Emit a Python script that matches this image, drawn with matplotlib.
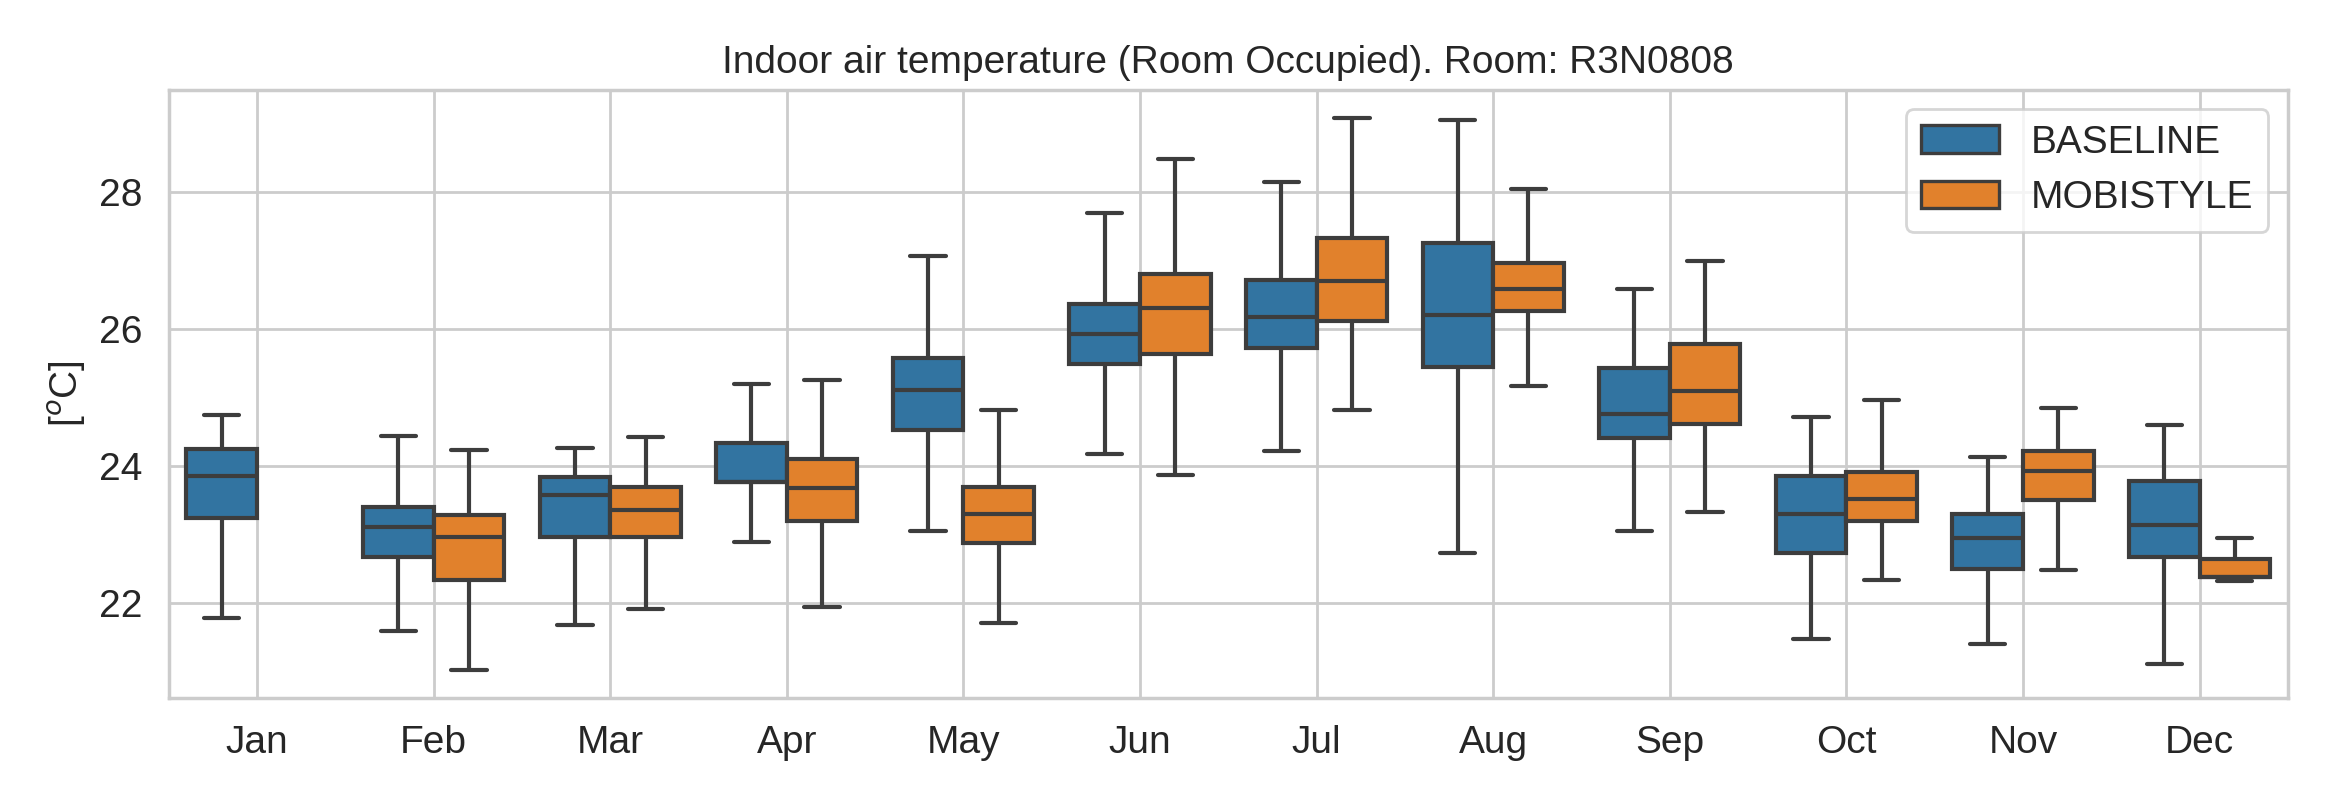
import matplotlib
matplotlib.use("Agg")
import matplotlib.pyplot as plt
import seaborn as sns
from matplotlib.patches import Patch

sns.set_theme(style="whitegrid")
plt.rcParams['font.family'] = ['Liberation Sans', 'DejaVu Sans']

months = ["Jan", "Feb", "Mar", "Apr", "May", "Jun", "Jul", "Aug", "Sep", "Oct", "Nov", "Dec"]
series = ["BASELINE", "MOBISTYLE"]

# BASELINE stats per month
base_low = [21.77, 21.58, 21.67, 22.89, 23.04, 24.17, 24.21, 22.72, 23.04, 21.47, 21.39, 21.10]
base_q1 = [23.23, 22.67, 22.96, 23.77, 24.52, 25.49, 25.72, 25.44, 24.40, 22.72, 22.49, 22.67]
base_med = [23.85, 23.11, 23.57, 23.77, 25.11, 25.93, 26.17, 26.21, 24.76, 23.29, 22.95, 23.13]
base_q3 = [24.24, 23.40, 23.83, 24.34, 25.57, 26.36, 26.71, 27.26, 25.43, 23.85, 23.29, 23.78]
base_high = [24.75, 24.43, 24.26, 25.20, 27.07, 27.69, 28.15, 29.06, 26.59, 24.72, 24.13, 24.59]

# MOBISTYLE stats per month (no data in Jan)
mobi_low = [None, 21.02, 21.91, 21.93, 21.70, 23.86, 24.81, 25.17, 23.32, 22.33, 22.47, 22.31]
mobi_q1 = [None, 22.33, 22.96, 23.19, 22.87, 25.63, 26.11, 26.26, 24.61, 23.19, 23.50, 22.38]
mobi_med = [None, 22.96, 23.36, 23.68, 23.29, 26.30, 26.70, 26.59, 25.09, 23.51, 23.92, 22.38]
mobi_q3 = [None, 23.28, 23.69, 24.10, 23.69, 26.80, 27.33, 26.97, 25.78, 23.91, 24.21, 22.64]
mobi_high = [None, 24.23, 24.42, 25.26, 24.82, 28.49, 29.08, 28.05, 26.99, 24.96, 24.84, 22.95]

colors = ["#3274a1", "#e1812c"]
line_c = "#3d3d3d"

fig = plt.figure(figsize=(11.7, 4), dpi=200)
ax = fig.add_axes([0.0721, 0.127, 0.9056, 0.761])

all_sets = [(base_low, base_q1, base_med, base_q3, base_high),
            (mobi_low, mobi_q1, mobi_med, mobi_q3, mobi_high)]
offsets = [-0.2, 0.2]
for k, (lo, q1, med, q3, hi) in enumerate(all_sets):
    stats = []
    pos = []
    for i in range(len(months)):
        if lo[i] is None:
            continue
        stats.append(dict(whislo=lo[i], q1=q1[i], med=med[i], q3=q3[i], whishi=hi[i], fliers=[]))
        pos.append(i + offsets[k])
    ax.bxp(stats, positions=pos, widths=0.4, patch_artist=True, showfliers=False,
           boxprops=dict(facecolor=colors[k], edgecolor=line_c, linewidth=1.5),
           medianprops=dict(color=line_c, linewidth=1.5),
           whiskerprops=dict(color=line_c, linewidth=1.5),
           capprops=dict(color=line_c, linewidth=1.5),
           manage_ticks=False, zorder=2)

ax.set_xlim(-0.5, 11.5)
ax.set_ylim(20.6, 29.5)
ax.set_xticks(range(len(months)))
ax.set_xticklabels(months, fontsize=14)
ax.set_yticks([22, 24, 26, 28])
ax.tick_params(axis='y', labelsize=14)
ax.set_ylabel("[$^o$C]", fontsize=14)
ax.set_title("Indoor air temperature (Room Occupied). Room: R3N0808", fontsize=14)
ax.grid(True, axis='both', color="#cccccc", linewidth=1)
ax.set_axisbelow(True)

handles = [Patch(facecolor=colors[i], edgecolor=line_c, linewidth=1.2, label=series[i]) for i in range(2)]
ax.legend(handles=handles, loc="upper right", fontsize=14, frameon=True)

fig.savefig("out.png", dpi=200)
